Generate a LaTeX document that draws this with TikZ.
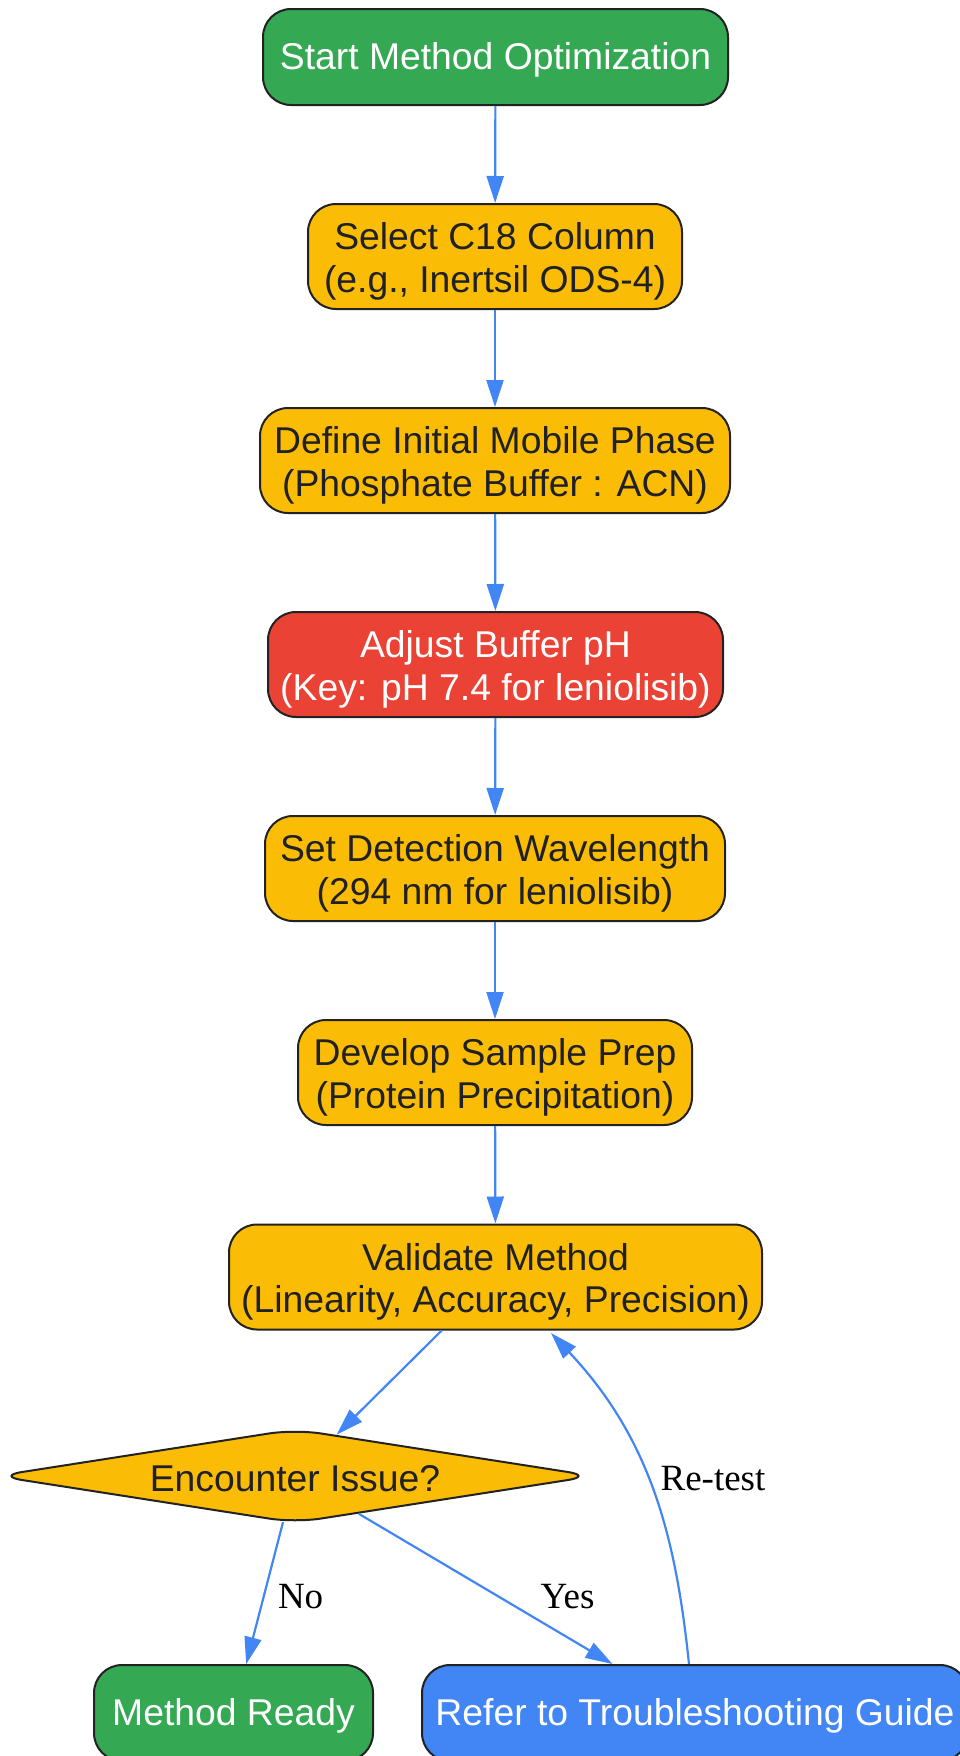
\documentclass[tikz,border=0pt]{standalone}
\usepackage{fontspec}
\setmainfont{Liberation Serif}
\newfontfamily\arialf{Liberation Sans}
\usetikzlibrary{shapes.geometric,arrows.meta}
\definecolor{gGreen}{HTML}{34A853}
\definecolor{gYellow}{HTML}{FBBC05}
\definecolor{gRed}{HTML}{EA4335}
\definecolor{gBlue}{HTML}{4285F4}
\definecolor{gDark}{HTML}{202124}
\definecolor{gBorder}{HTML}{222222}
\newcommand\tup{\rule{0pt}{37pt}}
\tikzset{
  box/.style={draw=gBorder, line width=2pt, rounded corners=28pt, inner sep=0pt,
    align=center, font=\arialf\fontsize{37.3}{42.5}\selectfont, minimum height=105pt},
  onebox/.style={box, minimum height=96pt, execute at begin node={\rule{0pt}{32pt}}},
  greenbox/.style={onebox, fill=gGreen, text=white},
  yellowbox/.style={box, fill=gYellow, text=gDark},
  redbox/.style={box, fill=gRed, text=white},
  bluebox/.style={onebox, fill=gBlue, text=white},
  decision/.style={diamond, aspect=6.36, draw=gBorder, line width=2pt, fill=gYellow, text=gDark,
    rounded corners=26pt, inner sep=0pt, minimum width=598pt, minimum height=94pt,
    font=\arialf\fontsize{37.3}{42.5}\selectfont, execute at begin node={\rule{0pt}{31pt}}},
  arr/.style={draw=gBlue, line width=2.2pt, -{Triangle[length=27pt,width=17pt]}},
  elabel/.style={font=\fontsize{37}{41.5}\selectfont, text=black, inner sep=0pt}
}
\begin{document}
\begin{tikzpicture}[x=1pt,y=-1pt]
\useasboundingbox (0,0) rectangle (959,1756);
\node[greenbox, minimum width=465pt] (start) at (495.5,57) {Start Method Optimization};
\node[yellowbox, minimum width=374pt] (col) at (495,256.5) {\tup Select C18 Column\\(e.g., Inertsil ODS-4)};
\node[yellowbox, minimum width=470pt] (mob) at (495,460.5) {\tup Define Initial Mobile Phase\\(Phosphate Buffer : ACN)};
\node[redbox, minimum width=455pt] (ph) at (495.5,664.5) {\tup Adjust Buffer pH\\(Key: pH 7.4 for leniolisib)};
\node[yellowbox, minimum width=460pt] (wl) at (495,868.5) {\tup Set Detection Wavelength\\(294 nm for leniolisib)};
\node[yellowbox, minimum width=394pt] (prep) at (495,1072.5) {\tup Develop Sample Prep\\(Protein Precipitation)};
\node[yellowbox, minimum width=533pt] (val) at (495.5,1277) {\tup Validate Method\\(Linearity, Accuracy, Precision)};
\node[decision] (iss) at (295,1476) {Encounter Issue?};
\node[greenbox, minimum width=279pt] (ready) at (233.5,1713) {Method Ready};
\node[bluebox, minimum width=546pt] (tr) at (695,1713) {Refer to Troubleshooting Guide};
\path (tr.north west) ++(268,0) coordinate (trtop);
\coordinate (valin) at (551,1333);

\draw[arr] (start) -- (col);
\draw[arr] (col) -- (mob);
\draw[arr] (mob) -- (ph);
\draw[arr] (ph) -- (wl);
\draw[arr] (wl) -- (prep);
\draw[arr] (prep) -- (val);
\draw[arr] (val) -- (iss);
\draw[arr] (iss) -- node[elabel, pos=0.5, xshift=36pt, yshift=-4pt] (nol) {No} (ready);
\draw[arr] (iss) -- node[elabel, pos=0.5, xshift=82pt, yshift=-8pt] (yesl) {Yes} (tr);
\draw[arr] (trtop) .. controls (676,1540) and (652,1440) .. node[elabel, pos=0.5, xshift=60pt, yshift=14pt] (rtl) {Re-test} (valin);
\end{tikzpicture}
\end{document}
